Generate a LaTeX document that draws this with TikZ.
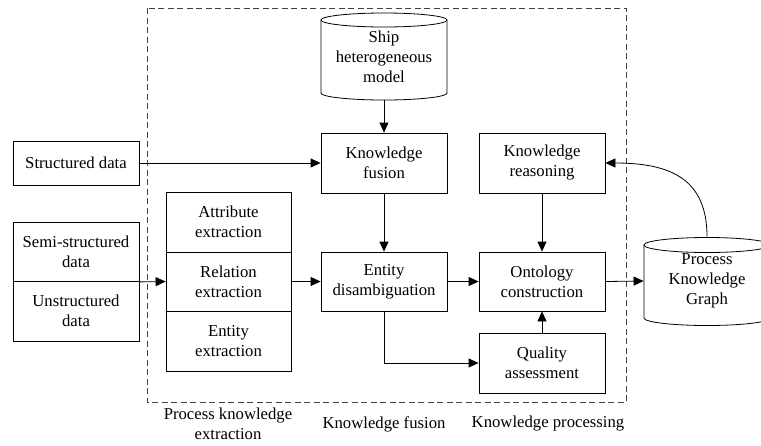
\documentclass[tikz,border=0pt]{standalone}
\usepackage{fontspec}
\setmainfont{Liberation Serif}
\usetikzlibrary{arrows.meta}
\begin{document}
\begin{tikzpicture}[x=1pt,y=-1pt,
  font=\fontsize{16.7}{20}\selectfont,
  line width=0.8pt,
  box/.style={draw, minimum width=126pt, minimum height=60pt, align=center, inner sep=0pt},
  ghost/.style={draw=none, minimum width=126pt, align=center, inner sep=0pt},
  arr/.style={-{Triangle[length=10pt,width=9pt]}},
  lbl/.style={align=center, inner sep=0pt}]
\useasboundingbox (0,0) rectangle (761,445);
\clip (0,0) rectangle (761,445);

% dashed frame
\draw[dash pattern=on 6pt off 3.5pt, draw=black!75] (147,8) rectangle (626,402);

% left inputs
\node[box, minimum height=44pt] (sd) at (76,163) {Structured data};
\node[box, minimum height=59.5pt] (semi) at (76,251.75) {Semi-structured\\data};
\node[box, minimum height=59.5pt] (uns) at (76,311.25) {Unstructured\\data};

% extraction stack
\node[box, minimum width=125pt, minimum height=60pt] (attr) at (228.5,222) {Attribute\\extraction};
\node[box, minimum width=125pt, minimum height=59pt] (rel) at (228.5,281.5) {Relation\\extraction};
\node[box, minimum width=125pt, minimum height=60pt] (ent) at (228.5,341) {Entity\\extraction};

% ship cylinder
\node[ghost, minimum height=87pt] (ship) at (384,56.5) {Ship\\heterogeneous\\model};
\draw (321,20) -- (321,93) arc[start angle=180, end angle=360, x radius=63pt, y radius=7pt] -- (447,20);
\draw (384,20) ellipse [x radius=63pt, y radius=7pt];

% middle and right boxes
\node[box] (kf) at (384,163) {Knowledge\\fusion};
\node[box] (kr) at (542,163) {Knowledge\\reasoning};
\node[box, minimum height=59pt] (ed) at (384,281.5) {Entity\\disambiguation};
\node[box, minimum height=59pt] (oc) at (542,281.5) {Ontology\\construction};
\node[box] (qa) at (542,363) {Quality\\assessment};

% process knowledge graph cylinder
\node[ghost, minimum height=88pt] (pkg) at (707,281) {Process\\Knowledge\\Graph};
\draw (644,245) -- (644,318) arc[start angle=180, end angle=360, x radius=63pt, y radius=7.5pt] -- (770,245);
\draw (707,245) ellipse [x radius=63pt, y radius=7.5pt];

% connectors
\draw[arr] (sd.east) -- (kf.west);
\draw[arr] (semi.south east) -- (rel.west);
\draw[arr] (rel.east) -- (ed.west);
\draw[arr] (ship.south) -- (kf.north);
\draw[arr] (kf.south) -- (ed.north);
\draw[arr] (ed.east) -- (oc.west);
\draw[arr] (kr.south) -- (oc.north);
\draw[arr] (ed.south) |- (qa.west);
\draw[arr] (qa.north) -- (oc.south);
\draw[arr] (oc.east) -- (pkg.west);
\draw[arr] (pkg.north) .. controls (707,180) and (672,163) .. (kr.east);

% section labels
\node[lbl] (l1) at (228,424) {Process knowledge\\extraction};
\node[lbl] (l2) at (384,424) {Knowledge fusion};
\node[lbl] (l3) at (548,424) {Knowledge processing};
\end{tikzpicture}
\end{document}
